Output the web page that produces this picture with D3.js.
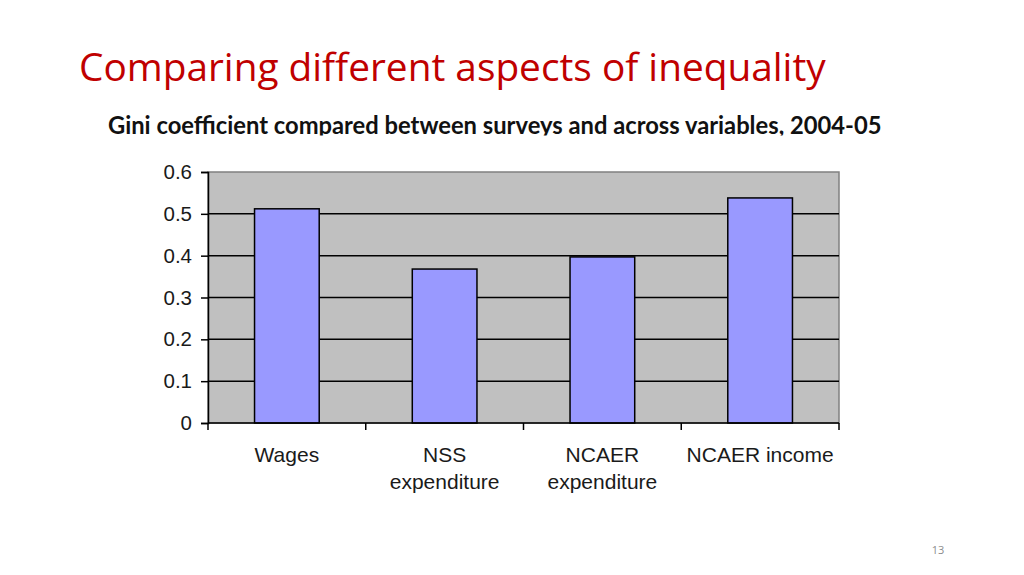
<!DOCTYPE html>
<html>
<head>
<meta charset="utf-8">
<script src="https://cdn.jsdelivr.net/npm/d3@7"></script>
<style>
  body { margin: 0; background: #fff; }
  svg { display: block; }
</style>
</head>
<body>
<script>
// data
var categories = ["Wages", "NSS expenditure", "NCAER expenditure", "NCAER income"];
var labelLines = [["Wages"], ["NSS", "expenditure"], ["NCAER", "expenditure"], ["NCAER income"]];
var gini = [0.512, 0.368, 0.397, 0.538];
var yTicks = [0, 0.1, 0.2, 0.3, 0.4, 0.5, 0.6];

var svg = d3.select("body")
    .append("svg")
    .attr("width", 1024)
    .attr("height", 575);

// slide title
svg.append("text")
    .attr("x", 79)
    .attr("y", 81)
    .attr("font-family", "Open Sans")
    .attr("font-size", 38.8)
    .attr("fill", "#c00000")
    .text("Comparing different aspects of inequality");

// subtitle, bottom is cut off by the chart picture in the original
svg.append("clipPath")
    .attr("id", "subclip")
    .append("rect")
    .attr("x", 0).attr("y", 100).attr("width", 1024).attr("height", 35.5);

var sub = svg.append("text")
    .attr("x", 108)
    .attr("y", 133.5)
    .attr("clip-path", "url(#subclip)")
    .attr("font-family", "Lato")
    .attr("font-weight", "bold")
    .attr("font-size", 22)
    .attr("fill", "#111")
    .text("Gini coefficient compared between surveys and across variables, 2004-05");
// fit the line to the width of the original
var subW = sub.node().getComputedTextLength();
sub.attr("font-size", 22 * 774 / subW);

// plot area
var pLeft = 208, pRight = 839, pTop = 172, pBottom = 423;

var x = d3.scaleBand()
    .domain(categories)
    .range([pLeft, pRight])
    .paddingInner(0.59)
    .paddingOuter(0.295);

var y = d3.scaleLinear()
    .domain([0, 0.6])
    .range([pBottom, pTop]);

svg.append("rect")
    .attr("x", pLeft)
    .attr("y", pTop)
    .attr("width", pRight - pLeft)
    .attr("height", pBottom - pTop)
    .attr("fill", "#c0c0c0")
    .attr("stroke", "#808080")
    .attr("stroke-width", 1.5);

// gridlines
svg.selectAll("line.grid")
    .data(yTicks.filter(d => d > 0 && d < 0.6))
    .enter()
    .append("line")
    .attr("class", "grid")
    .attr("x1", pLeft)
    .attr("x2", pRight)
    .attr("y1", d => y(d))
    .attr("y2", d => y(d))
    .attr("stroke", "#000")
    .attr("stroke-width", 1.5);

// bars
svg.selectAll("rect.bar")
    .data(gini)
    .enter()
    .append("rect")
    .attr("class", "bar")
    .attr("x", (d, i) => x(categories[i]))
    .attr("y", d => y(d))
    .attr("width", x.bandwidth())
    .attr("height", d => pBottom - y(d))
    .attr("fill", "#9999ff")
    .attr("stroke", "#000")
    .attr("stroke-width", 1.5);

// y axis
var yAxis = svg.append("g")
    .attr("transform", "translate(" + pLeft + ",0)")
    .call(d3.axisLeft(y).tickValues(yTicks).tickFormat(d => d === 0 ? "0" : d3.format(".1f")(d))
        .tickSize(7).tickPadding(9));
yAxis.select(".domain").attr("stroke", "#000").attr("stroke-width", 1.5);
yAxis.selectAll(".tick line").attr("stroke", "#000").attr("stroke-width", 1.5);
yAxis.selectAll(".tick text")
    .attr("font-family", "Liberation Sans")
    .attr("font-size", 20.5)
    .attr("fill", "#1a1a1a");

// x axis: ticks sit between the categories
var edges = x.domain().map(c => x(c) - x.step() * x.paddingInner() / 2);
edges.push(pRight);
edges[0] = pLeft;

svg.append("line")
    .attr("x1", pLeft).attr("x2", pRight)
    .attr("y1", pBottom).attr("y2", pBottom)
    .attr("stroke", "#000").attr("stroke-width", 1.5);

svg.selectAll("line.xtick")
    .data(edges)
    .enter()
    .append("line")
    .attr("class", "xtick")
    .attr("x1", d => d).attr("x2", d => d)
    .attr("y1", pBottom).attr("y2", pBottom + 7)
    .attr("stroke", "#000").attr("stroke-width", 1.5);

var xLabels = svg.selectAll("text.xlab")
    .data(labelLines)
    .enter()
    .append("text")
    .attr("class", "xlab")
    .attr("text-anchor", "middle")
    .attr("font-family", "Liberation Sans")
    .attr("font-size", 21)
    .attr("fill", "#1a1a1a");

xLabels.selectAll("tspan")
    .data((d, i) => d.map(t => ({ t: t, c: categories[i] })))
    .enter()
    .append("tspan")
    .attr("x", d => x(d.c) + x.bandwidth() / 2)
    .attr("y", (d, j) => 462 + j * 27)
    .text(d => d.t);

// page number
svg.append("text")
    .attr("x", 938)
    .attr("y", 554)
    .attr("text-anchor", "middle")
    .attr("font-family", "Open Sans")
    .attr("font-size", 11)
    .attr("fill", "#8c8c8c")
    .text("13");
</script>
</body>
</html>
